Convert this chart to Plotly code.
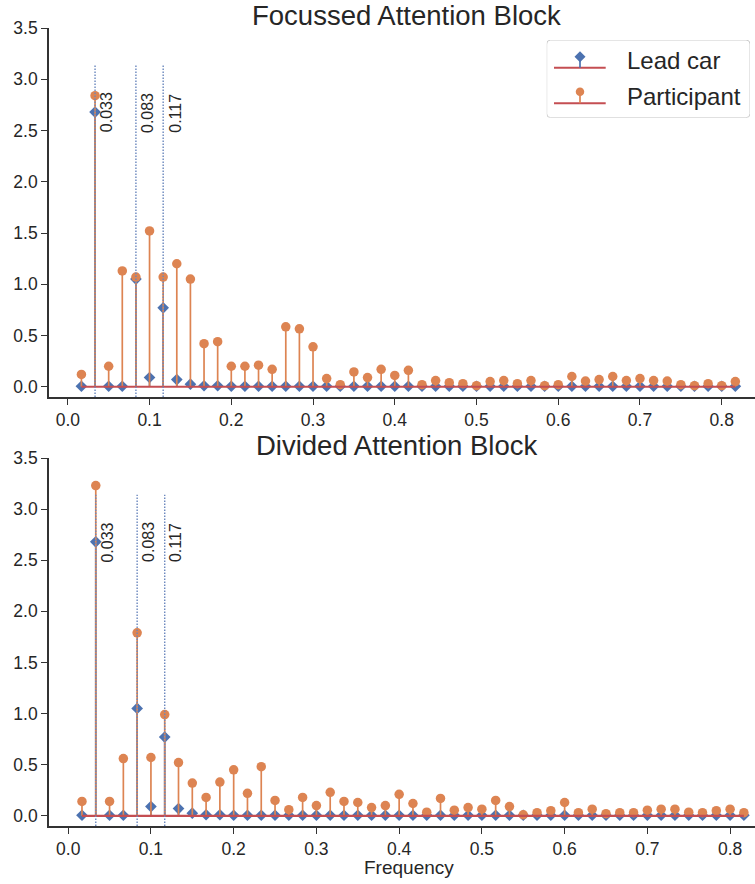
import plotly.graph_objects as go

# Frequency bins (cycles per second), k/60 for k = 1..49
freq = [k / 60 for k in range(1, 50)]

# Spectral power of the lead car speed signal (same stimulus in both blocks)
lead_car = [0.005, 2.68, 0.005, 0.005, 1.05, 0.09, 0.77, 0.07, 0.025, 0.01,
            0.01, 0.005, 0.005, 0.005, 0.005, 0.005, 0.005, 0.005, 0.005, 0.005,
            0.005, 0.005, 0.005, 0.005, 0.005, 0.005, 0.005, 0.005, 0.005, 0.005,
            0.005, 0.005, 0.005, 0.005, 0.005, 0.005, 0.005, 0.005, 0.005, 0.005,
            0.005, 0.005, 0.005, 0.005, 0.005, 0.005, 0.005, 0.005, 0.005]

# Participant speed spectrum, focussed attention block
focussed = [0.12, 2.84, 0.20, 1.13, 1.07, 1.52, 1.07, 1.20, 1.05, 0.42,
            0.44, 0.20, 0.20, 0.21, 0.17, 0.585, 0.565, 0.39, 0.08, 0.02,
            0.145, 0.09, 0.17, 0.11, 0.16, 0.02, 0.06, 0.04, 0.03, 0.01,
            0.05, 0.06, 0.03, 0.06, 0.01, 0.02, 0.10, 0.055, 0.07, 0.10,
            0.06, 0.08, 0.06, 0.055, 0.02, 0.01, 0.03, 0.01, 0.05]

# Participant speed spectrum, divided attention block
divided = [0.14, 3.23, 0.14, 0.56, 1.79, 0.57, 0.99, 0.52, 0.32, 0.18,
           0.33, 0.45, 0.22, 0.48, 0.15, 0.06, 0.18, 0.10, 0.23, 0.14,
           0.13, 0.08, 0.10, 0.21, 0.12, 0.035, 0.17, 0.055, 0.08, 0.065,
           0.15, 0.09, 0.01, 0.03, 0.05, 0.13, 0.03, 0.065, 0.02, 0.03,
           0.03, 0.055, 0.065, 0.065, 0.035, 0.03, 0.05, 0.065, 0.03]

# Frequencies of the sine components in the lead car's speed profile
marked_freqs = [1 / 30, 1 / 12, 7 / 60]
marked_labels = ["0.033", "0.083", "0.117"]

panel_titles = ["Focussed Attention Block", "Divided Attention Block"]
series_names = ["Lead car", "Participant"]
x_title = "Frequency"

BLUE = "#4c72b0"
ORANGE = "#dd8452"
RED = "#c44e52"
INK = "#262626"
SPINE = "#333333"
FONT = "Liberation Sans, Arial, Helvetica, sans-serif"

W, H = 755, 884
ML, MR, MT, MB = 49, 0, 28, 58
PW, PH = W - ML - MR, H - MT - MB


def px_x(px):
    return (px - ML) / PW


def px_y(py):
    return (H - MB - py) / PH


def stem_xy(xs, ys):
    sx, sy = [], []
    for x, y in zip(xs, ys):
        sx += [x, x, None]
        sy += [0, y, None]
    return sx, sy


fig = go.Figure()

panels = [("x", "y", focussed), ("x2", "y2", divided)]
for xa, ya, part in panels:
    lx, ly = stem_xy(freq, lead_car)
    fig.add_trace(go.Scatter(x=lx, y=ly, mode="lines", xaxis=xa, yaxis=ya,
                             line=dict(color=BLUE, width=1.7), hoverinfo="skip",
                             showlegend=False))
    fig.add_trace(go.Scatter(x=freq, y=lead_car, mode="markers", xaxis=xa, yaxis=ya,
                             name=series_names[0], showlegend=False,
                             marker=dict(symbol="diamond", size=9, color=BLUE)))
    px_, py_ = stem_xy(freq, part)
    fig.add_trace(go.Scatter(x=px_, y=py_, mode="lines", xaxis=xa, yaxis=ya,
                             line=dict(color=ORANGE, width=1.7), hoverinfo="skip",
                             showlegend=False))
    fig.add_trace(go.Scatter(x=freq, y=part, mode="markers", xaxis=xa, yaxis=ya,
                             name=series_names[1], showlegend=False,
                             marker=dict(symbol="circle", size=9.5, color=ORANGE)))
    fig.add_trace(go.Scatter(x=[freq[0], freq[-1]], y=[0, 0], mode="lines",
                             xaxis=xa, yaxis=ya, line=dict(color=RED, width=2.2),
                             hoverinfo="skip", showlegend=False))

    for f, lab in zip(marked_freqs, marked_labels):
        fig.add_shape(type="line", xref=xa, yref=ya + " domain",
                      x0=f, x1=f, y0=0, y1=0.9,
                      line=dict(color="#6a87bd", width=1.4, dash="1.5px,1.5px"))
        fig.add_annotation(x=f, y=2.46, xref=xa, yref=ya, text=lab,
                           textangle=-90, showarrow=False, xanchor="left",
                           yanchor="bottom", xshift=1,
                           font=dict(family=FONT, size=16, color=INK))

# Panel titles
for title, top_px, cx in zip(panel_titles, [28, 458], [406, 397]):
    fig.add_annotation(x=px_x(cx), y=px_y(top_px), xref="paper", yref="paper",
                       text=title, showarrow=False, xanchor="center",
                       yanchor="bottom", yshift=-5,
                       font=dict(family=FONT, size=27.5, color=INK))

# Shared x-axis title under the lower panel
fig.add_annotation(x=px_x(409), y=px_y(867), xref="paper", yref="paper",
                   text=x_title, showarrow=False, xanchor="center", yanchor="middle",
                   font=dict(family=FONT, size=19, color=INK))

# Legend drawn on its own small axis, coordinates in pixels inside the box
box_l, box_t, box_r, box_b = 546.7, 40, 750, 117.7
bw, bh = box_r - box_l, box_b - box_t
r = 4
fig.add_shape(type="path", xref="x3", yref="y3",
              path=(f"M {r},0 L {bw - r},0 Q {bw},0 {bw},{r} L {bw},{bh - r} "
                    f"Q {bw},{bh} {bw - r},{bh} L {r},{bh} Q 0,{bh} 0,{bh - r} "
                    f"L 0,{r} Q 0,0 {r},0 Z"),
              line=dict(color="#cccccc", width=1), fillcolor="white",
              layer="below")
legend_rows = [(27.7, 16.7, "diamond", 8.5, BLUE, 20.5),
               (63.3, 51.7, "circle", 8.5, ORANGE, 56)]
for (base_y, mk_y, sym, size, col, text_y), name in zip(legend_rows, series_names):
    fig.add_trace(go.Scatter(x=[7.3, 59], y=[base_y, base_y], mode="lines",
                             xaxis="x3", yaxis="y3", line=dict(color=RED, width=2),
                             hoverinfo="skip", showlegend=False, cliponaxis=False))
    fig.add_trace(go.Scatter(x=[33.3, 33.3], y=[base_y, mk_y], mode="lines",
                             xaxis="x3", yaxis="y3", line=dict(color=col, width=1.7),
                             hoverinfo="skip", showlegend=False, cliponaxis=False))
    fig.add_trace(go.Scatter(x=[33.3], y=[mk_y], mode="markers",
                             xaxis="x3", yaxis="y3", hoverinfo="skip",
                             marker=dict(symbol=sym, size=size, color=col),
                             showlegend=False, cliponaxis=False))
    fig.add_annotation(x=78.3, y=text_y, xref="x3", yref="y3", text=name,
                       showarrow=False, xanchor="left", yanchor="middle",
                       font=dict(family=FONT, size=24, color=INK))

axis_common = dict(showline=True, linecolor=SPINE, linewidth=1.6, ticks="outside",
                   ticklen=6, tickwidth=1.4, tickcolor=SPINE, showgrid=False,
                   zeroline=False, tickfont=dict(family=FONT, size=17.5, color=INK))

fig.update_layout(
    width=W, height=H,
    margin=dict(l=ML, r=MR, t=MT, b=MB),
    paper_bgcolor="white", plot_bgcolor="white",
    showlegend=False,
    xaxis=dict(anchor="y", domain=[0, 1], range=[-0.023, 0.8407],
               tickvals=[i / 10 for i in range(9)], tickformat=".1f",
               ticklabelstandoff=0, **axis_common),
    yaxis=dict(anchor="x", domain=[px_y(397), 1], range=[-0.1, 3.5],
               tickvals=[i / 2 for i in range(8)], tickformat=".1f", **axis_common),
    xaxis2=dict(anchor="y2", domain=[0, 1], range=[-0.0232, 0.8301],
                tickvals=[i / 10 for i in range(9)], tickformat=".1f",
                ticklabelstandoff=0, **axis_common),
    yaxis2=dict(anchor="x2", domain=[0, px_y(458)], range=[-0.1, 3.5],
                tickvals=[i / 2 for i in range(8)], tickformat=".1f", **axis_common),
    xaxis3=dict(anchor="y3", domain=[px_x(box_l), px_x(box_r)], range=[0, bw],
                visible=False, fixedrange=True),
    yaxis3=dict(anchor="x3", domain=[px_y(box_b), px_y(box_t)], range=[bh, 0],
                visible=False, fixedrange=True),
)

fig.write_html("out.html")
